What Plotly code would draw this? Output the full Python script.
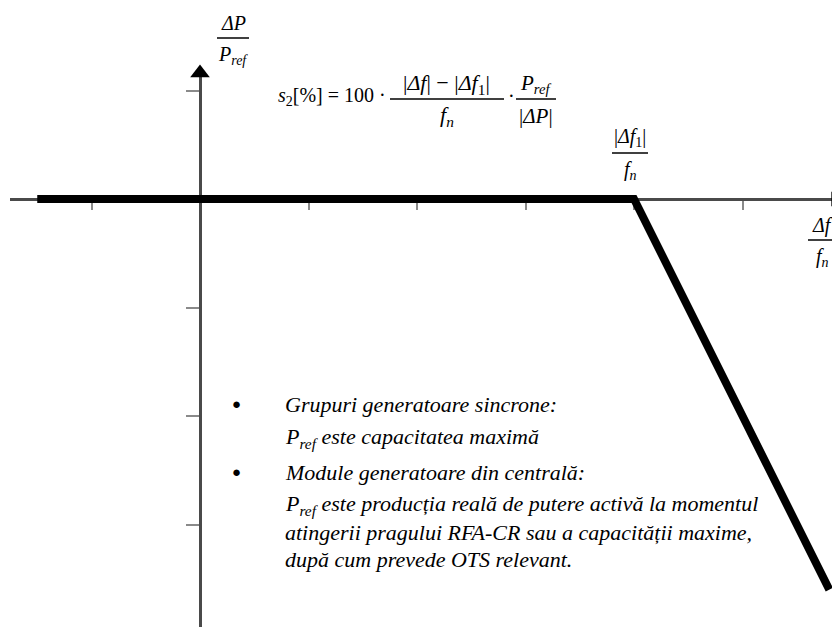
import plotly.graph_objects as go

# characteristic curve: flat up to |df1|/fn, then falling with droop
curve_x = [-1.5, 4.0, 5.8]
curve_y = [0.0, 0.0, -3.6]

x_ticks = [-1, 1, 2, 3, 4, 5]
y_ticks = [1, -1, -2, -3]

bullet_lines = [
    "<i>Grupuri generatoare sincrone:</i>",
    "<i>P<sub>ref</sub> este capacitatea maximă</i>",
    "<i>Module generatoare din centrală:</i>",
    "<i>P<sub>ref</sub> este producția reală de putere activă la momentul</i>",
    "<i>atingerii pragului RFA-CR sau a capacității maxime,</i>",
    "<i>după cum prevede OTS relevant.</i>",
]
bullet_rows = [0, 2]

# page body has an 8px margin, so the figure is drawn 8px in
OFF = 8
W, H = 840 - OFF, 627 - OFF
UNIT = 108.5          # pixels per axis unit
X0, Y0 = 200, 199     # page pixel position of the origin


def px(x):
    return (x - OFF) / W


def py(y):
    return 1 - (y - OFF) / H


x_left, y_top = 10, 72
x_range = [(x_left - X0) / UNIT, (840 - X0) / UNIT]
y_range = [(Y0 - 627) / UNIT, (Y0 - y_top) / UNIT]

fig = go.Figure()

fig.add_trace(go.Scatter(x=curve_x, y=curve_y, mode="lines",
                         line=dict(color="black", width=8), showlegend=False,
                         hoverinfo="skip"))

# axis arrow heads
fig.add_trace(go.Scatter(x=[0], y=[y_range[1] - 0.01], mode="markers",
                         marker=dict(symbol="triangle-up", size=17, color="black"),
                         cliponaxis=False, showlegend=False, hoverinfo="skip"))
fig.add_trace(go.Scatter(x=[x_range[1] - 0.05], y=[0], mode="markers",
                         marker=dict(symbol="triangle-right", size=13, color="black"),
                         cliponaxis=False, showlegend=False, hoverinfo="skip"))

fig.update_xaxes(range=x_range, domain=[px(x_left), 1], anchor="free", position=py(Y0),
                 showline=True, linecolor="#4a4a4a", linewidth=3, layer="below traces",
                 showgrid=False, zeroline=False, showticklabels=False,
                 ticks="outside", tickvals=x_ticks, ticklen=9, tickwidth=2, tickcolor="#8a8a8a")
fig.update_yaxes(range=y_range, domain=[0, py(y_top)], anchor="free", position=px(X0),
                 showline=True, linecolor="#4a4a4a", linewidth=3, layer="below traces",
                 showgrid=False, zeroline=False, showticklabels=False,
                 ticks="outside", tickvals=y_ticks, ticklen=13, tickwidth=2, tickcolor="#8a8a8a")

serif = "Liberation Serif, Times New Roman, DejaVu Serif, serif"
ann = []
shapes = []
sp = "\u00a0"


def text(x, y, s, size=20, anchor="center"):
    ann.append(dict(x=px(x), y=py(y), xref="paper", yref="paper", text=s, showarrow=False,
                    xanchor=anchor, yanchor="middle", font=dict(family=serif, size=size, color="black")))


def bar(x1, x2, y):
    shapes.append(dict(type="line", xref="paper", yref="paper", x0=px(x1), x1=px(x2),
                       y0=py(y), y1=py(y), line=dict(color="black", width=1.5)))


def frac(cx, y_bar, half, num, den, size=20):
    text(cx, y_bar - 15, num, size)
    bar(cx - half, cx + half, y_bar)
    text(cx, y_bar + 17, den, size)


# axis labels
frac(233, 38, 16, "<i>ΔP</i>", "<i>P<sub>ref</sub></i>")
frac(630, 153, 18, "|<i>Δf</i><sub>1</sub>|", "<i>f<sub>n</sub></i>")
frac(822, 240, 14, "<i>Δf</i>", "<i>f<sub>n</sub></i>")

# droop formula
text(388, 96, "<i>s</i><sub>2</sub>[%] = 100 ·", anchor="right")
frac(447, 99, 57, "|<i>Δf</i>|" + sp + "−" + sp + "|<i>Δf</i><sub>1</sub>|",
     "<i>f<sub>n</sub></i>", 22)
text(511, 96, "·")
frac(536, 99, 20, "<i>P<sub>ref</sub></i>", "|<i>ΔP</i>|", 21)

# explanatory bullet list
line_y = [404, 438, 472, 505, 532, 559]
for i, s in enumerate(bullet_lines):
    text(283, line_y[i], s, size=22, anchor="left")
for r in bullet_rows:
    text(236, line_y[r], "●", size=15)

fig.update_layout(width=W, height=H, margin=dict(l=0, r=0, t=0, b=0),
                  paper_bgcolor="white", plot_bgcolor="white",
                  annotations=ann, shapes=shapes, showlegend=False)

fig.write_html("out.html")
